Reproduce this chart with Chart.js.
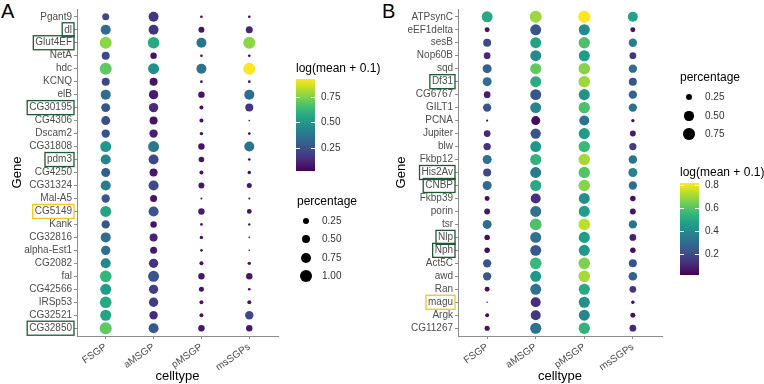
<!DOCTYPE html>
<html>
<head>
<meta charset="utf-8">
<script src="https://cdn.jsdelivr.net/npm/chart.js@4"></script>
<style>
  body { margin: 0; width: 764px; height: 384px; background: #fff; position: relative; overflow: hidden;
         font-family: "Liberation Sans", Arial, sans-serif; }
  canvas { position: absolute; top: 0; }
  .t { position: absolute; white-space: nowrap; transform: translateY(-50%); line-height: 1; }
  .letter { position: absolute; font-size: 20px; top: 0; }
  .bar { position: absolute; }
  .tk { position: absolute; height: 1px; width: 4px; background: #fff; }
  .dot { position: absolute; background: #000; border-radius: 50%; }
</style>
</head>
<body>
<div class="letter" style="left:1px">A</div>
<div class="letter" style="left:382px">B</div>
<canvas id="chartA" width="380" height="384" style="left:0"></canvas>
<canvas id="chartB" width="384" height="384" style="left:380px"></canvas>
<div id="legends"></div>
<script>
const celltypes = ["FSGP", "aMSGP", "pMSGP", "msSGPs"];

// panel A
const genesA = ["Pgant9", "dl", "Glut4EF", "NetA", "hdc", "KCNQ", "elB", "CG30195", "CG4306", "Dscam2",
  "CG31808", "pdm3", "CG4250", "CG31324", "Mal-A5", "CG5149", "Kank", "CG32816", "alpha-Est1", "CG2082",
  "fal", "CG42566", "IRSp53", "CG32521", "CG32850"];
const meanA_FSGP = [0.22, 0.34, 0.77, 0.22, 0.70, 0.22, 0.34, 0.26, 0.24, 0.25, 0.50, 0.43, 0.29, 0.40, 0.26, 0.55, 0.26, 0.35, 0.35, 0.45, 0.62, 0.53, 0.57, 0.55, 0.70];
const meanA_aMSGP = [0.17, 0.16, 0.57, 0.07, 0.48, 0.07, 0.09, 0.13, 0.07, 0.10, 0.38, 0.22, 0.08, 0.23, 0.07, 0.26, 0.07, 0.11, 0.08, 0.15, 0.26, 0.19, 0.18, 0.13, 0.27];
const meanA_pMSGP = [0.04, 0.07, 0.37, 0.04, 0.37, 0.04, 0.07, 0.06, 0.06, 0.06, 0.07, 0.07, 0.06, 0.08, 0.05, 0.09, 0.06, 0.06, 0.06, 0.06, 0.08, 0.07, 0.07, 0.06, 0.08];
const meanA_msSGPs = [0.04, 0.11, 0.77, 0.04, 0.93, 0.04, 0.35, 0.17, 0.04, 0.04, 0.37, 0.05, 0.06, 0.08, 0.06, 0.07, 0.05, 0.05, 0.05, 0.06, 0.08, 0.06, 0.07, 0.22, 0.08];
const pctA_FSGP = [0.32, 0.66, 0.95, 0.42, 0.95, 0.42, 0.66, 0.53, 0.53, 0.46, 0.80, 0.66, 0.53, 0.66, 0.46, 0.80, 0.46, 0.66, 0.57, 0.66, 0.90, 0.80, 0.90, 0.80, 0.95];
const pctA_aMSGP = [0.66, 0.66, 0.90, 0.27, 0.80, 0.42, 0.57, 0.57, 0.42, 0.46, 0.80, 0.66, 0.42, 0.66, 0.32, 0.66, 0.27, 0.42, 0.32, 0.57, 0.80, 0.57, 0.57, 0.46, 0.66];
const pctA_pMSGP = [0.04, 0.23, 0.66, 0.04, 0.66, 0.04, 0.27, 0.10, 0.10, 0.07, 0.27, 0.20, 0.10, 0.23, 0.02, 0.27, 0.04, 0.07, 0.04, 0.10, 0.27, 0.16, 0.10, 0.10, 0.27];
const pctA_msSGPs = [0.04, 0.32, 0.95, 0.04, 0.95, 0.04, 0.66, 0.42, 0.01, 0.04, 0.66, 0.04, 0.07, 0.16, 0.02, 0.14, 0.03, 0.01, 0.01, 0.07, 0.27, 0.04, 0.10, 0.46, 0.27];
const boxGreenA = ["dl", "Glut4EF", "CG30195", "pdm3", "CG32850"];
const boxYellowA = ["CG5149"];
const colorTicksA = [0.25, 0.50, 0.75];
const sizeTicksA = [0.25, 0.50, 0.75, 1.00];

// panel B
const genesB = ["ATPsynC", "eEF1delta", "sesB", "Nop60B", "sqd", "Df31", "CG6767", "GILT1", "PCNA", "Jupiter",
  "blw", "Fkbp12", "His2Av", "CNBP", "Fkbp39", "porin", "tsr", "Nlp", "Nph", "Act5C", "awd", "Ran", "magu",
  "Argk", "CG11267"];
const meanB_FSGP = [0.50, 0.07, 0.20, 0.11, 0.27, 0.30, 0.09, 0.23, 0.03, 0.11, 0.13, 0.32, 0.19, 0.29, 0.05, 0.07, 0.30, 0.05, 0.04, 0.23, 0.24, 0.05, 0.03, 0.05, 0.06];
const meanB_aMSGP = [0.70, 0.23, 0.48, 0.40, 0.62, 0.51, 0.23, 0.39, 0.05, 0.23, 0.44, 0.54, 0.35, 0.50, 0.13, 0.32, 0.59, 0.32, 0.24, 0.56, 0.44, 0.32, 0.13, 0.15, 0.32];
const meanB_pMSGP = [0.82, 0.40, 0.59, 0.46, 0.67, 0.70, 0.43, 0.59, 0.32, 0.46, 0.56, 0.71, 0.60, 0.67, 0.42, 0.46, 0.74, 0.46, 0.45, 0.66, 0.71, 0.50, 0.42, 0.39, 0.54];
const meanB_msSGPs = [0.48, 0.06, 0.35, 0.15, 0.31, 0.23, 0.27, 0.31, 0.04, 0.09, 0.16, 0.32, 0.37, 0.31, 0.05, 0.07, 0.32, 0.09, 0.05, 0.23, 0.26, 0.14, 0.04, 0.05, 0.11];
const pctB_FSGP = [0.70, 0.14, 0.37, 0.26, 0.47, 0.47, 0.26, 0.40, 0.02, 0.26, 0.31, 0.47, 0.37, 0.47, 0.14, 0.20, 0.47, 0.17, 0.17, 0.40, 0.40, 0.14, 0.005, 0.09, 0.15];
const pctB_aMSGP = [0.84, 0.70, 0.70, 0.70, 0.72, 0.70, 0.70, 0.70, 0.47, 0.62, 0.70, 0.72, 0.70, 0.72, 0.58, 0.70, 0.80, 0.70, 0.70, 0.80, 0.70, 0.70, 0.58, 0.58, 0.72];
const pctB_pMSGP = [0.88, 0.72, 0.75, 0.72, 0.78, 0.78, 0.72, 0.75, 0.58, 0.72, 0.75, 0.78, 0.75, 0.78, 0.70, 0.72, 0.80, 0.72, 0.72, 0.78, 0.78, 0.72, 0.72, 0.70, 0.75];
const pctB_msSGPs = [0.58, 0.14, 0.40, 0.26, 0.40, 0.37, 0.40, 0.40, 0.06, 0.20, 0.30, 0.42, 0.47, 0.40, 0.17, 0.20, 0.40, 0.26, 0.17, 0.37, 0.42, 0.26, 0.06, 0.14, 0.26];
const boxGreenB = ["Df31", "His2Av", "CNBP", "Nlp", "Nph"];
const boxYellowB = ["magu"];
const colorTicksB = [0.2, 0.4, 0.6, 0.8];
const sizeTicksB = [0.25, 0.50, 0.75];

const VIR = ["#440154", "#482878", "#3e4989", "#31688e", "#26828e", "#1f9e89", "#35b779", "#6ece58", "#b5de2b", "#fde725"];
function hex(h) { return [1, 3, 5].map(i => parseInt(h.substr(i, 2), 16)); }
function viridis(t) {
  t = Math.max(0, Math.min(1, t));
  const p = t * (VIR.length - 1), i = Math.min(Math.floor(p), VIR.length - 2), f = p - i;
  const a = hex(VIR[i]), b = hex(VIR[i + 1]);
  return "rgb(" + a.map((v, k) => Math.round(v + (b[k] - v) * f)).join(",") + ")";
}

const TICK_FONT = { family: "'Liberation Sans', Arial, sans-serif", size: 10 };

function makePanel(id, genes, means, pcts, cfg) {
  const colorOf = v => viridis((v - cfg.min) / (cfg.max - cfg.min));
  const radius = p => 0.5 * Math.sqrt(1 + cfg.k * p);
  const boxes = {
    id: "boxes",
    afterDraw(chart) {
      const ys = chart.scales.y, ctx = chart.ctx;
      ctx.save();
      ctx.font = "10px 'Liberation Sans', Arial, sans-serif";
      ctx.lineWidth = 1.3;
      const xr = ys.right - 3 - 2;
      [[cfg.green, "#1f5a35"], [cfg.yellow, "#f7c515"]].forEach(([list, col]) => {
        list.forEach(g => {
          const i = genes.indexOf(g);
          const y = ys.getPixelForValue(i);
          const w = ctx.measureText(g).width;
          ctx.strokeStyle = col;
          ctx.strokeRect(xr - w - 2, y - 7, w + 4, 14);
        });
      });
      ctx.restore();
    }
  };
  new Chart(document.getElementById(id), {
    type: "scatter",
    data: {
      datasets: celltypes.map((c, ci) => ({
        label: c,
        data: genes.map((g, i) => ({ x: ci, y: i })),
        pointRadius: means[ci].map((v, i) => radius(pcts[ci][i])),
        pointBackgroundColor: means[ci].map(colorOf),
        pointBorderWidth: 0,
        pointHoverRadius: means[ci].map((v, i) => radius(pcts[ci][i]))
      }))
    },
    options: {
      responsive: false,
      animation: false,
      layout: { padding: { left: 0, right: cfg.padRight, top: 9, bottom: 0 } },
      plugins: { legend: { display: false }, tooltip: { enabled: false } },
      scales: {
        x: {
          type: "linear", min: -0.6, max: 3.6,
          afterBuildTicks: s => { s.ticks = celltypes.map((c, i) => ({ value: i })); },
          afterFit: s => { s.height = 48; },
          ticks: { callback: v => celltypes[v], minRotation: 35, maxRotation: 35, autoSkip: false,
                   padding: 2, color: "#4d4d4d", font: TICK_FONT },
          grid: { drawOnChartArea: false, drawTicks: true, tickLength: 3, color: "#8c8c8c" },
          border: { display: true, color: "#8c8c8c" },
          title: { display: true, text: "celltype", color: "#000",
                   font: { family: "'Liberation Sans', Arial, sans-serif", size: 13 }, padding: { top: 0, bottom: 0 } }
        },
        y: {
          type: "linear", min: -0.6, max: genes.length - 0.4, reverse: true,
          afterBuildTicks: s => { s.ticks = genes.map((g, i) => ({ value: i })); },
          afterFit: s => { s.width = cfg.axisW; },
          ticks: { callback: v => genes[v], autoSkip: false, padding: 2, color: "#4d4d4d", font: TICK_FONT },
          grid: { drawOnChartArea: false, drawTicks: true, tickLength: 3, color: "#8c8c8c" },
          border: { display: true, color: "#8c8c8c" },
          title: { display: true, text: "Gene", color: "#000",
                   font: { family: "'Liberation Sans', Arial, sans-serif", size: 13 }, padding: { top: cfg.titlePad, bottom: 0 } }
        }
      }
    },
    plugins: [boxes]
  });
  return { colorOf, radius };
}

const pA = makePanel("chartA", genesA,
  [meanA_FSGP, meanA_aMSGP, meanA_pMSGP, meanA_msSGPs],
  [pctA_FSGP, pctA_aMSGP, pctA_pMSGP, pctA_msSGPs],
  { min: 0.02, max: 0.93, k: 150, padRight: 102, axisW: 77, titlePad: 10, green: boxGreenA, yellow: boxYellowA });
const pB = makePanel("chartB", genesB,
  [meanB_FSGP, meanB_aMSGP, meanB_pMSGP, meanB_msSGPs],
  [pctB_FSGP, pctB_aMSGP, pctB_pMSGP, pctB_msSGPs],
  { min: 0.02, max: 0.82, k: 170, padRight: 102, axisW: 78, titlePad: 14, green: boxGreenB, yellow: boxYellowB });

// legends (HTML)
const leg = document.getElementById("legends");
function text(x, y, s, size, color) {
  const d = document.createElement("div");
  d.className = "t";
  d.style.left = x + "px"; d.style.top = y + "px";
  d.style.fontSize = size + "px"; d.style.color = color;
  d.textContent = s;
  leg.appendChild(d);
}
function colorbar(x, y0, y1, min, max, ticks, title) {
  text(x, y0 - 11, title, 12, "#000");
  const bar = document.createElement("div");
  bar.className = "bar";
  const stops = [];
  for (let i = 0; i <= 20; i++) stops.push(viridis(i / 20) + " " + (i * 5) + "%");
  bar.style.cssText = `left:${x}px;top:${y0}px;width:19px;height:${y1 - y0}px;background:linear-gradient(to top, ${stops.join(",")})`;
  leg.appendChild(bar);
  ticks.forEach(v => {
    const y = y1 - (v - min) / (max - min) * (y1 - y0);
    [x, x + 15].forEach(tx => {
      const t = document.createElement("div");
      t.className = "tk";
      t.style.left = tx + "px"; t.style.top = Math.round(y) + "px";
      leg.appendChild(t);
    });
    text(x + 25, y, v.toFixed(v * 10 % 1 === 0 && ticks.length === 4 && max < 0.9 ? 1 : 2), 10, "#333");
  });
}
function sizeLegend(x, yTitle, ys, ticks, radius) {
  text(x, yTitle, "percentage", 12, "#000");
  ticks.forEach((v, i) => {
    const r = radius(v);
    const d = document.createElement("div");
    d.className = "dot";
    d.style.cssText = `left:${x + 9 - r}px;top:${ys[i] - r}px;width:${2 * r}px;height:${2 * r}px`;
    leg.appendChild(d);
    text(x + 25, ys[i], v.toFixed(2), 10, "#333");
  });
}
colorbar(296, 79, 171, 0.02, 0.93, colorTicksA, "log(mean + 0.1)");
sizeLegend(297, 201, [221, 239, 258, 276], sizeTicksA, pA.radius);
sizeLegend(680, 77, [97, 116, 134], sizeTicksB, pB.radius);
colorbar(680, 183, 275, 0.02, 0.82, colorTicksB, "log(mean + 0.1)");
</script>
</body>
</html>
